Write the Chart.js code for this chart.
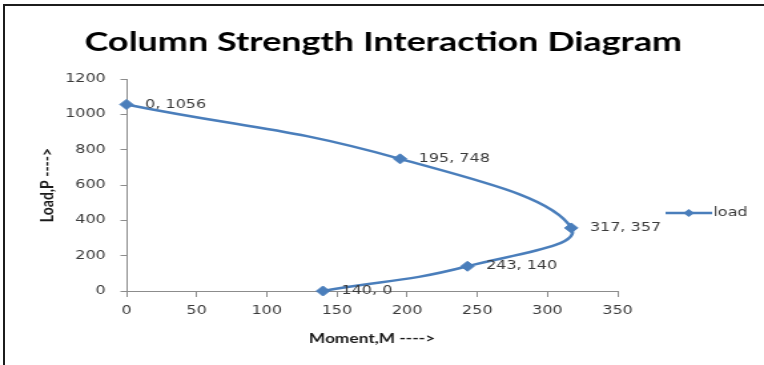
<!DOCTYPE html>
<html>
<head>
<meta charset="utf-8">
<script src="https://cdn.jsdelivr.net/npm/chart.js@4/dist/chart.umd.min.js"></script>
<style>
  body { margin: 0; background: #fff; }
  #wrap { position: relative; width: 764px; height: 365px; overflow: hidden; }
  #chart { position: absolute; left: 0; top: 0; }
  #frame {
    position: absolute; left: 3px; top: 4px; right: -4px; bottom: -4px;
    border-top: 2px solid #1c1c1c; border-left: 2px solid #1c1c1c;
  }
</style>
</head>
<body>
<div id="wrap">
  <!-- drawn narrow and shown wide, like the exported sheet image -->
  <canvas id="chart" width="574" height="365" style="width:764px;height:365px"></canvas>
  <div id="frame"></div>
</div>
<script>
// interaction diagram points (moment, load)
const moments = [0, 195, 317, 243, 140];
const loads = [1056, 748, 357, 140, 0];
const seriesName = 'load';
const chartTitle = 'Column Strength Interaction Diagram';

const xTicks = [0, 50, 100, 150, 200, 250, 300, 350];
const yTicks = [0, 200, 400, 600, 800, 1000, 1200];

const blue = '#4a7ebb';
const axisGrey = '#8c8c8c';
const textGrey = '#3a3a3a';

Chart.defaults.font.family = 'DejaVu Sans';
Chart.defaults.font.size = 12;
Chart.defaults.color = textGrey;

// title over the whole canvas, "x, y" beside every point, small legend on the right
const extras = {
  id: 'extras',
  afterDraw(chart) {
    const ctx = chart.ctx;
    ctx.save();
    ctx.font = 'bold 27px Lato';
    ctx.fillStyle = '#000';
    ctx.textAlign = 'center';
    ctx.textBaseline = 'alphabetic';
    ctx.fillText(chartTitle, chart.width / 2 + 1, 51);
    ctx.restore();
  },
  afterDatasetsDraw(chart) {
    const ctx = chart.ctx;
    const meta = chart.getDatasetMeta(0);
    const ds = chart.data.datasets[0];
    ctx.save();
    ctx.font = '12px "DejaVu Sans"';
    ctx.fillStyle = textGrey;
    ctx.textAlign = 'left';
    ctx.textBaseline = 'middle';
    meta.data.forEach(function(pt, i) {
      const d = ds.data[i];
      ctx.fillText(d.x + ', ' + d.y, pt.x + 14, pt.y);
    });

    // legend
    const ly = 213, lx = 500, lw = 35, mx = lx + lw / 2;
    ctx.strokeStyle = ds.borderColor;
    ctx.lineWidth = 2.5;
    ctx.beginPath();
    ctx.moveTo(lx, ly);
    ctx.lineTo(lx + lw, ly);
    ctx.stroke();
    ctx.fillStyle = ds.borderColor;
    ctx.beginPath();
    ctx.moveTo(mx, ly - 4);
    ctx.lineTo(mx + 4, ly);
    ctx.lineTo(mx, ly + 4);
    ctx.lineTo(mx - 4, ly);
    ctx.closePath();
    ctx.fill();
    ctx.fillStyle = textGrey;
    ctx.fillText(ds.label, lx + lw + 1, ly);
    ctx.restore();
  }
};

function plainTick(v) { return String(v); }

new Chart(document.getElementById('chart'), {
  type: 'scatter',
  data: {
    datasets: [{
      label: seriesName,
      data: moments.map(function(m, i) { return {x: m, y: loads[i]}; }),
      showLine: true,
      tension: 0.45,
      borderColor: blue,
      backgroundColor: blue,
      borderWidth: 2.5,
      pointStyle: 'rectRot',
      pointRadius: 5,
      pointBorderWidth: 1,
      clip: false
    }]
  },
  options: {
    responsive: false,
    devicePixelRatio: 1,
    animation: false,
    layout: { padding: { top: 79, right: 110, left: 0, bottom: 0 } },
    plugins: {
      legend: { display: false },
      tooltip: { enabled: false },
      title: { display: false }
    },
    scales: {
      x: {
        type: 'linear',
        min: 0,
        max: 350,
        afterBuildTicks: function(scale) { scale.ticks = xTicks.map(function(v) { return {value: v}; }); },
        afterFit: function(scale) { scale.height = 74; },
        grid: { drawOnChartArea: false, drawTicks: true, tickLength: 6, color: axisGrey },
        border: { color: axisGrey },
        ticks: { padding: 7, color: textGrey, callback: plainTick },
        title: {
          display: true,
          text: 'Moment,M ---->',
          color: '#1a1a1a',
          font: { family: 'Lato', size: 13, weight: 'bold' },
          padding: { top: 0, bottom: 18 }
        }
      },
      y: {
        type: 'linear',
        min: 0,
        max: 1200,
        afterBuildTicks: function(scale) { scale.ticks = yTicks.map(function(v) { return {value: v}; }); },
        afterFit: function(scale) { scale.width = 95; },
        grid: { drawOnChartArea: false, drawTicks: true, tickLength: 4.5, color: axisGrey },
        border: { color: axisGrey },
        ticks: { padding: 11, color: textGrey, callback: plainTick },
        title: {
          display: true,
          text: 'Load,P ---->',
          color: '#1a1a1a',
          font: { family: 'Lato', size: 14, weight: 'bold' },
          padding: { top: 27, bottom: 0 }
        }
      }
    }
  },
  plugins: [extras]
});
</script>
</body>
</html>
